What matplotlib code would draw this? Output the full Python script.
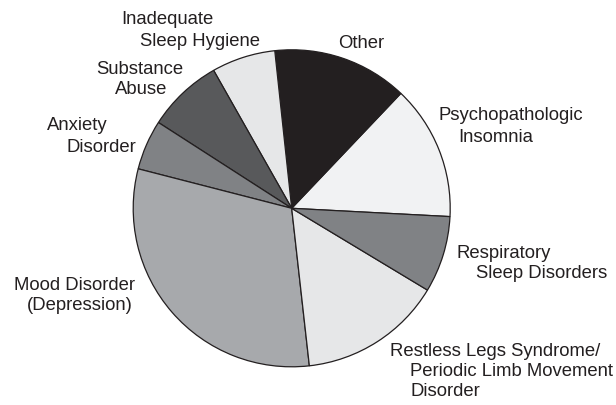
import matplotlib
matplotlib.use("Agg")
import matplotlib.pyplot as plt

plt.rcParams['font.family'] = ['Liberation Sans', 'DejaVu Sans']

# causes of insomnia, shares in percent
categories = ['Psychopathologic Insomnia', 'Other', 'Inadequate Sleep Hygiene',
              'Substance Abuse', 'Anxiety Disorder', 'Mood Disorder (Depression)',
              'Restless Legs Syndrome/Periodic Limb Movement Disorder',
              'Respiratory Sleep Disorders']
shares = [13.75, 13.8, 6.5, 7.7, 5.1, 30.8, 14.6, 7.8]
colors = ['#f1f2f3', '#231f20', '#e6e7e8', '#58595b', '#808285',
          '#a7a9ac', '#e6e7e8', '#808285']

# label lines: (text, left x px, centre y px from top)
label_lines = [
    ('Inadequate', 121, 20), ('Sleep Hygiene', 140, 42),
    ('Other', 338, 43),
    ('Substance', 96, 69), ('Abuse', 115, 90),
    ('Psychopathologic', 438, 116), ('Insomnia', 458, 137),
    ('Anxiety', 47, 126), ('Disorder', 66, 147),
    ('Respiratory', 457, 254), ('Sleep Disorders', 476, 274),
    ('Mood Disorder', 14, 285), ('(Depression)', 27, 305),
    ('Restless Legs Syndrome/', 390, 351), ('Periodic Limb Movement', 410, 371),
    ('Disorder', 410, 391),
]

W, H = 616, 405
fig = plt.figure(figsize=(W / 100, H / 100), dpi=100)
ax = fig.add_axes([0, 0, 1, 1])
ax.pie(shares, colors=colors, startangle=-3.0, counterclock=True,
       center=(291.7, H - 208.3), radius=158.5,
       wedgeprops=dict(edgecolor='#231f20', linewidth=0.9))
ax.set_xlim(0, W)
ax.set_ylim(0, H)
ax.set_aspect('equal')
ax.axis('off')

for txt, x, y in label_lines:
    ax.text(x, H - y, txt, ha='left', va='center', fontsize=13.3, color='#231f20')

fig.savefig('out.png', dpi=100)
